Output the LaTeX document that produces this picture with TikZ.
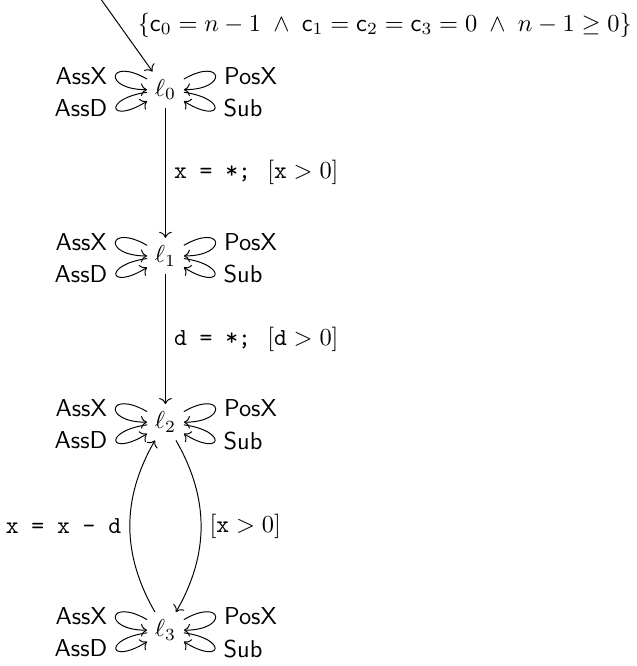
\documentclass[tikz,border=0pt]{standalone}
\usetikzlibrary{arrows.meta,positioning}
\tikzset{
  loc/.style={inner sep=3pt},
  trans/.style={->},
  selfloop/.style={->, looseness=8, min distance=6.5mm},
  act/.style={font=\sffamily},
}
\begin{document}
\begin{tikzpicture}
  \useasboundingbox (-2.38,1.29) rectangle (6.78,-8.29);
  \node[loc] (l0) {$\ell_0$};
  \node[loc, below=1.87cm of l0] (l1) {$\ell_1$};
  \node[loc, below=1.87cm of l1] (l2) {$\ell_2$};
  \node[loc, below=2.47cm of l2] (l3) {$\ell_3$};
  \coordinate (start) at (-0.92,1.29);

  \draw[trans] (start) -- node[pos=0.35, right=4pt] {$\{\mathsf{c}_0 = n-1 \;\wedge\; \mathsf{c}_1 = \mathsf{c}_2 = \mathsf{c}_3 = 0 \;\wedge\; n-1 \geq 0\}$} (l0);

  % self loops on every location
  \foreach \l in {l0,l1,l2,l3} {
    \draw[selfloop] (\l) to[out=150, in=180] node[act, left] {AssX} (\l);
    \draw[selfloop] (\l) to[out=188, in=212] node[act, left] {AssD} (\l);
    \draw[selfloop] (\l) to[out=30, in=0] node[act, right] {PosX} (\l);
    \draw[selfloop] (\l) to[out=-8, in=-32] node[act, right] {Sub} (\l);
  }

  \draw[trans] (l0) -- node[right] {\texttt{x = *;}\ \ $[\mathtt{x} > 0]$} (l1);
  \draw[trans] (l1) -- node[right] {\texttt{d = *;}\ \ $[\mathtt{d} > 0]$} (l2);
  \draw[trans] (l3) to[bend left=30] node[left] {\texttt{x = x - d}} (l2);
  \draw[trans] (l2) to[bend left=30] node[right] {$[\mathtt{x} > 0]$} (l3);
\end{tikzpicture}
\end{document}
